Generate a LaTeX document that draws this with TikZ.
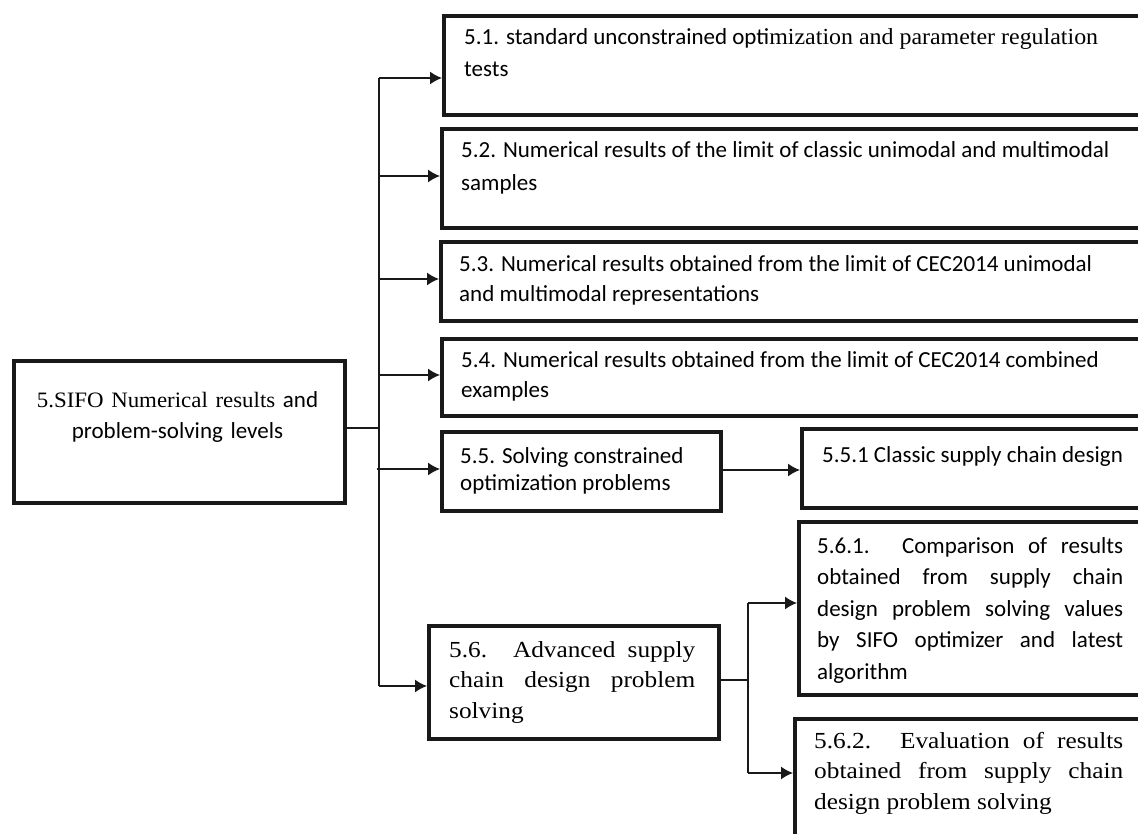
\documentclass[tikz,border=0pt]{standalone}
\usepackage{fontspec}
\setmainfont{Carlito}
\newfontfamily\cmb[FakeStretch=1.04]{Liberation Serif}
\newfontfamily\cmbw[FakeStretch=1.1]{Liberation Serif}
\usetikzlibrary{arrows.meta}
\newcommand{\nohy}{\hyphenpenalty=10000\exhyphenpenalty=10000\tolerance=9999}
\tikzset{
  box/.style={draw=black!90, line width=4pt, rectangle, anchor=north west, inner sep=0pt, fill=white},
  conn/.style={line width=1.6pt, draw=black!90},
  arr/.style={conn, -{Latex[length=12pt,width=13pt]}},
  sftxt/.style={anchor=base west, inner sep=0pt, align=left, font=\fontsize{23}{33}\selectfont},
  sftxtj/.style={anchor=base west, inner sep=0pt, align=justify, font=\fontsize{23}{31.5}\selectfont\nohy},
  sertxt/.style={anchor=base west, inner sep=0pt, align=justify, font=\cmbw\fontsize{23}{30.5}\selectfont\nohy},
}
\begin{document}
\begin{tikzpicture}[x=1pt,y=-1pt]
\useasboundingbox (0,0) rectangle (1138,834);
\clip (0,0) rectangle (1138,834);
% boxes
\node[box, minimum width=331pt, minimum height=142pt] (main) at (12,359) {};
\node[box, minimum width=740pt, minimum height=99pt] (b51) at (442,14) {};
\node[box, minimum width=740pt, minimum height=99pt] (b52) at (440,127) {};
\node[box, minimum width=740pt, minimum height=79pt] (b53) at (439,240) {};
\node[box, minimum width=740pt, minimum height=77pt] (b54) at (440,337) {};
\node[box, minimum width=279pt, minimum height=79pt] (b55) at (440,430) {};
\node[box, minimum width=400pt, minimum height=79pt] (b551) at (800,427) {};
\node[box, minimum width=400pt, minimum height=173pt] (b561) at (797,520) {};
\node[box, minimum width=290pt, minimum height=113pt] (b56) at (427,624) {};
\node[box, minimum width=400pt, minimum height=200pt] (b562) at (793,717) {};
% texts
\node[anchor=base, inner sep=0pt, align=center, text width=330pt, font=\fontsize{23}{31}\selectfont] (tmain) at (177.5,407)
  {{\cmb\fontsize{22}{31}\selectfont 5.SIFO Numerical results} and\\problem-solving levels};
\node[sftxt, font=\fontsize{23}{32}\selectfont] (t51) at (464,77) {5.1. standard unconstrained opti{\cmb\fontsize{23}{32}\selectfont mization and parameter regulation}\\tests};
\node[sftxt] (t52) at (461,191) {5.2. Numerical results of the limit of classic unimodal and multimodal\\samples};
\node[sftxt, font=\fontsize{23}{30}\selectfont] (t53) at (459,302) {5.3. Numerical results obtained from the limit of CEC2014 unimodal\\and multimodal representations};
\node[sftxt, font=\fontsize{23}{30}\selectfont] (t54) at (461,397) {5.4. Numerical results obtained from the limit of CEC2014 combined\\examples};
\node[sftxt, font=\fontsize{23}{27}\selectfont] (t55) at (460,490) {5.5. Solving constrained\\optimization problems};
\node[sftxt] (t551) at (822,462) {5.5.1 Classic supply chain design};
\begin{scope}
\clip (800,523) rectangle (1136,684);
\node[sftxtj, text width=306pt] (t561) at (817,553) {5.6.1. Comparison of results obtained from supply chain design problem solving values by SIFO optimizer and latest algorithm};
\end{scope}
\node[sertxt, text width=246pt] (t56) at (449,657) {5.6. Advanced supply chain design problem solving};
\node[sertxt, text width=309pt] (t562) at (814,748) {5.6.2. Evaluation of results obtained from supply chain design problem solving};
% connectors
\coordinate (j0) at (379,428);
\coordinate (j1) at (379,78);
\coordinate (j2) at (379,176);
\coordinate (j3) at (379,279);
\coordinate (j4) at (379,375);
\coordinate (j5) at (377,469);
\coordinate (j6) at (379,686);
\draw[conn] (main.east |- j0) -- (j0);
\draw[conn] (j1) -- (j6);
\draw[arr] (j1) -- (j1 -| b51.west);
\draw[arr] (j2) -- (j2 -| b52.west);
\draw[arr] (j3) -- (j3 -| b53.west);
\draw[arr] (j4) -- (j4 -| b54.west);
\draw[arr] (j5) -- (j5 -| b55.west);
\draw[arr] (j6) -- (j6 -| b56.west);
\coordinate (k0) at (719,470);
\draw[arr] (b55.east |- k0) -- (k0 -| b551.west);
\coordinate (m0) at (748,680);
\coordinate (m1) at (748,603);
\coordinate (m2) at (748,773);
\draw[conn] (b56.east |- m0) -- (m0);
\draw[conn] (m1) -- (m2);
\draw[arr] (m1) -- (m1 -| b561.west);
\draw[arr] (m2) -- (m2 -| b562.west);
\end{tikzpicture}
\end{document}
